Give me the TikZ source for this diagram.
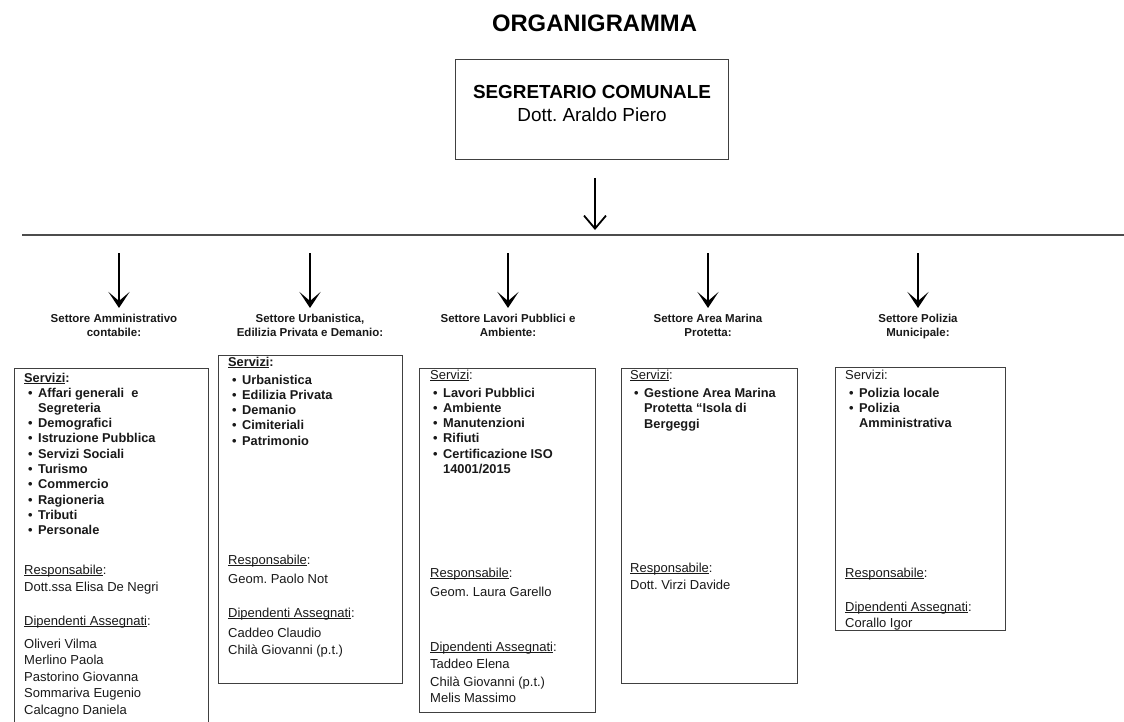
\documentclass[tikz,border=0pt]{standalone}
\usepackage{fontspec}
\setmainfont{Liberation Sans}
\usetikzlibrary{arrows.meta}
\frenchspacing
\newcommand\myul[1]{\setbox0\hbox{#1}\rlap{\rule[-1.7pt]{\wd0}{0.8pt}}\box0}
\newcommand\bitem[1]{\makebox[10pt][l]{\textbullet}#1}
\tikzset{
  box/.style={draw=black!75, line width=1.1pt, inner sep=0pt, anchor=north west},
  ln/.style={anchor=base west, inner sep=0pt, font=\fontsize{13}{15}\selectfont, text=black!90},
  bl/.style={ln, font=\fontsize{12.8}{15}\selectfont\bfseries},
  sarrow/.style={line width=2.2pt, -{Stealth[length=16pt,width=21pt,inset=9pt]}},
  tarrow/.style={line width=1.8pt, -{Straight Barb[length=13pt,width=22pt]}},
  settore/.style={align=center, anchor=north, font=\fontsize{11.5}{14}\selectfont\bfseries, inner sep=0pt, text=black!90}
}
\begin{document}
\begin{tikzpicture}[x=1pt,y=-1pt]
\clip (0,0) rectangle (1124,722);
\fill[white] (0,0) rectangle (1124,722);

% title
\node[anchor=base, inner sep=0pt, font=\fontsize{23.8}{28}\selectfont\bfseries] (title) at (594.5,32) {ORGANIGRAMMA};

% top box
\node[box, minimum width=273, minimum height=100] (seg) at (455,59) {};
\node[anchor=base, inner sep=0pt, font=\fontsize{18.9}{22}\selectfont\bfseries] (segt) at (592,99) {SEGRETARIO COMUNALE};
\node[anchor=base, inner sep=0pt, font=\fontsize{18.9}{22}\selectfont] (segn) at (592,122) {Dott. Araldo Piero};

\coordinate (ts) at (595,178);
\coordinate (te) at (595,230);
\draw[tarrow] (ts) -- (te);

% horizontal line
\coordinate (hl) at (22,235);
\coordinate (hr) at (1124,235);
\draw[black!70, line width=1.2pt] (hl) -- (hr);

% sector arrows
\foreach \x [count=\i] in {119,310,508,708,918}{
  \coordinate (s\i) at (\x,253);
  \coordinate (e\i) at (\x,308);
  \draw[sarrow] (s\i) -- (e\i);
}

% sector labels
\node[settore] (l1) at (114,313.7) {Settore Amministrativo\\contabile:};
\node[settore] (l2) at (310,313.7) {Settore Urbanistica,\\Edilizia Privata e Demanio:};
\node[settore] (l3) at (508,313.7) {Settore Lavori Pubblici e\\Ambiente:};
\node[settore] (l4) at (708,313.7) {Settore Area Marina\\Protetta:};
\node[settore] (l5) at (918,313.7) {Settore Polizia\\Municipale:};

% ---------- box 1
\node[box, minimum width=194, minimum height=380] (box1) at (14,368) {};
\node[bl] (b1h) at (24,382) {\myul{Servizi}:};
\node[bl] (b1a) at (28,397) {\bitem{Affari generali\ \ e}};
\node[bl] (b1b) at (38,412.3) {Segreteria};
\node[bl] (b1c) at (28,427.6) {\bitem{Demografici}};
\node[bl] (b1d) at (28,442.9) {\bitem{Istruzione Pubblica}};
\node[bl] (b1e) at (28,458.2) {\bitem{Servizi Sociali}};
\node[bl] (b1f) at (28,473.5) {\bitem{Turismo}};
\node[bl] (b1g) at (28,488.8) {\bitem{Commercio}};
\node[bl] (b1h2) at (28,504.1) {\bitem{Ragioneria}};
\node[bl] (b1i) at (28,519.4) {\bitem{Tributi}};
\node[bl] (b1j) at (28,534.7) {\bitem{Personale}};
\node[ln] (b1r) at (24,574) {\myul{Responsabile}:};
\node[ln] (b1rn) at (24,591) {Dott.ssa Elisa De Negri};
\node[ln] (b1d0) at (24,625) {\myul{Dipendenti Assegnati}:};
\node[ln] (b1d1) at (24,648) {Oliveri Vilma};
\node[ln] (b1d2) at (24,664.5) {Merlino Paola};
\node[ln] (b1d3) at (24,681) {Pastorino Giovanna};
\node[ln] (b1d4) at (24,697.5) {Sommariva Eugenio};
\node[ln] (b1d5) at (24,714) {Calcagno Daniela};

% ---------- box 2
\node[box, minimum width=184, minimum height=328] (box2) at (218,355) {};
\node[bl] (b2h) at (228,366) {\myul{Servizi}:};
\node[bl] (b2a) at (232,384) {\bitem{Urbanistica}};
\node[bl] (b2b) at (232,399.3) {\bitem{Edilizia Privata}};
\node[bl] (b2c) at (232,414.6) {\bitem{Demanio}};
\node[bl] (b2d) at (232,429.9) {\bitem{Cimiteriali}};
\node[bl] (b2e) at (232,445.2) {\bitem{Patrimonio}};
\node[ln] (b2r) at (228,564) {\myul{Responsabile}:};
\node[ln] (b2rn) at (228,583) {Geom. Paolo Not};
\node[ln] (b2d0) at (228,617) {\myul{Dipendenti Assegnati}:};
\node[ln] (b2d1) at (228,637) {Caddeo Claudio};
\node[ln] (b2d2) at (228,654) {Chilà Giovanni (p.t.)};

% ---------- box 3
\node[box, minimum width=176, minimum height=344] (box3) at (419,368) {};
\node[ln] (b3h) at (430,379) {\myul{Servizi}:};
\node[bl] (b3a) at (433,397) {\bitem{Lavori Pubblici}};
\node[bl] (b3b) at (433,412.3) {\bitem{Ambiente}};
\node[bl] (b3c) at (433,427.6) {\bitem{Manutenzioni}};
\node[bl] (b3d) at (433,442.9) {\bitem{Rifiuti}};
\node[bl] (b3e) at (433,458.2) {\bitem{Certificazione ISO}};
\node[bl] (b3f) at (443,473.5) {14001/2015};
\node[ln] (b3r) at (430,577) {\myul{Responsabile}:};
\node[ln] (b3rn) at (430,596) {Geom. Laura Garello};
\node[ln] (b3d0) at (430,651) {\myul{Dipendenti Assegnati}:};
\node[ln] (b3d1) at (430,668) {Taddeo Elena};
\node[ln] (b3d2) at (430,686) {Chilà Giovanni (p.t.)};
\node[ln] (b3d3) at (430,702) {Melis Massimo};

% ---------- box 4
\node[box, minimum width=176, minimum height=315] (box4) at (621,368) {};
\node[ln] (b4h) at (630,379) {\myul{Servizi}:};
\node[bl] (b4a) at (634,397) {\bitem{Gestione Area Marina}};
\node[bl] (b4b) at (644,412.3) {Protetta “Isola di};
\node[bl] (b4c) at (644,428) {Bergeggi};
\node[ln] (b4r) at (630,572) {\myul{Responsabile}:};
\node[ln] (b4rn) at (630,589) {Dott. Virzi Davide};

% ---------- box 5
\node[box, minimum width=170, minimum height=263] (box5) at (835,367) {};
\node[ln] (b5h) at (845,379) {Servizi:};
\node[bl] (b5a) at (849,397) {\bitem{Polizia locale}};
\node[bl] (b5b) at (849,412.3) {\bitem{Polizia}};
\node[bl] (b5c) at (859,427.6) {Amministrativa};
\node[ln] (b5r) at (845,577) {\myul{Responsabile}:};
\node[ln] (b5d0) at (845,611) {\myul{Dipendenti Assegnati}:};
\node[ln] (b5d1) at (845,627) {Corallo Igor};
\end{tikzpicture}
\end{document}
